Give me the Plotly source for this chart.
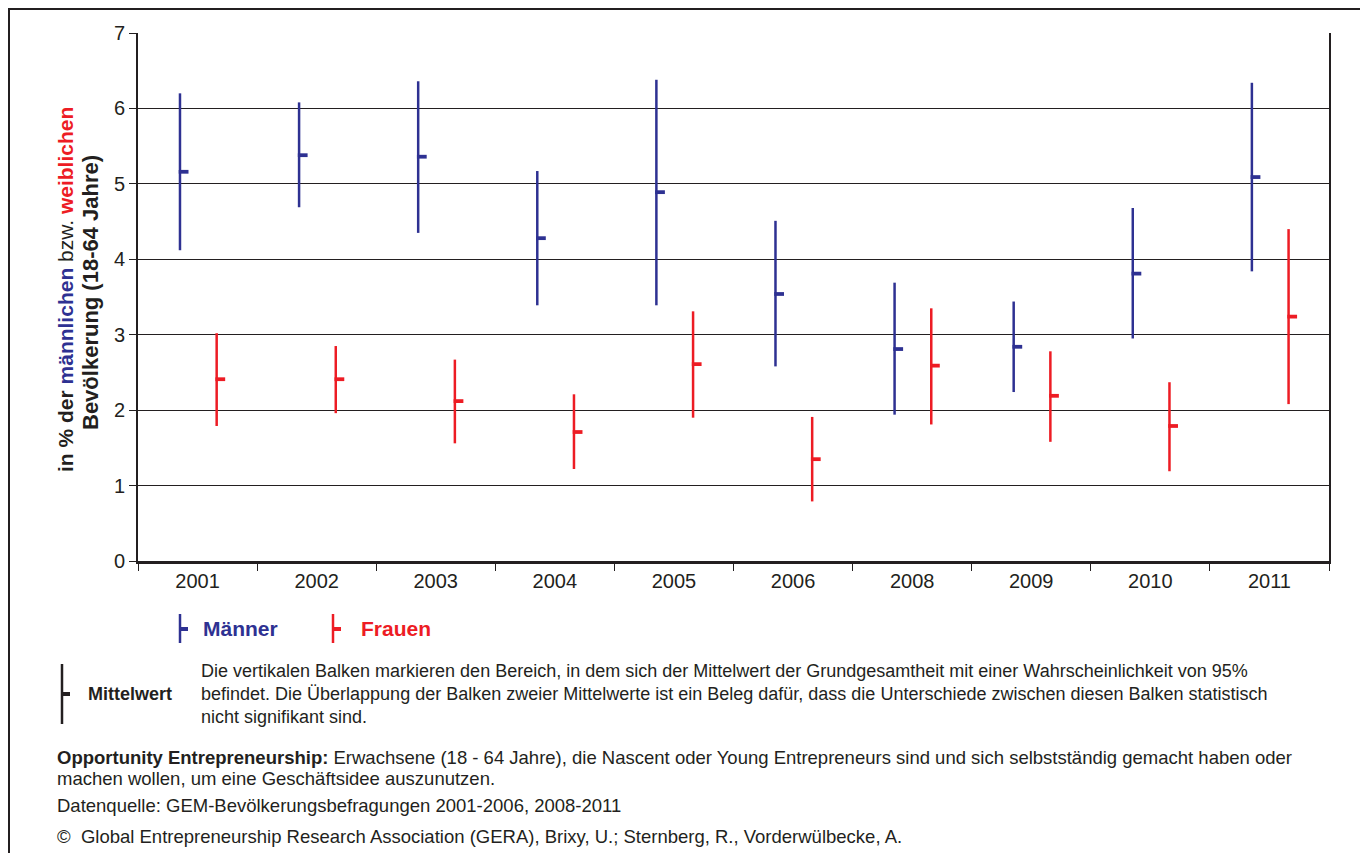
import plotly.graph_objects as go

# ---------------- data ----------------
years = ["2001", "2002", "2003", "2004", "2005", "2006", "2008", "2009", "2010", "2011"]

maenner_low = [4.12, 4.69, 4.35, 3.39, 3.39, 2.58, 1.94, 2.24, 2.95, 3.84]
maenner_high = [6.20, 6.08, 6.36, 5.17, 6.38, 4.51, 3.69, 3.44, 4.68, 6.34]
maenner_mean = [5.16, 5.38, 5.36, 4.28, 4.89, 3.54, 2.81, 2.84, 3.81, 5.09]

frauen_low = [1.79, 1.96, 1.56, 1.22, 1.90, 0.79, 1.81, 1.58, 1.19, 2.08]
frauen_high = [3.02, 2.85, 2.67, 2.21, 3.31, 1.91, 3.35, 2.78, 2.37, 4.40]
frauen_mean = [2.41, 2.41, 2.12, 1.71, 2.61, 1.35, 2.59, 2.19, 1.79, 3.24]

y_ticks = [0, 1, 2, 3, 4, 5, 6, 7]

# ---------------- style ----------------
BLUE = "#2E3192"
RED = "#ED1C24"
DARK = "#231F20"
TXT = "#231F20"
FONT = "Liberation Sans, Arial, Helvetica, sans-serif"

OFF = 8                      # page body margin
W, H = 1360, 845             # figure size
# plot area in page pixels
PL, PR, PT, PB = 138, 1329, 33, 561
L, R, T, B = PL - OFF, PR - OFF, PT - OFF, PB - OFF


def px(x):
    """page x pixel -> paper coordinate"""
    return (x - PL) / (PR - PL)


def py(y):
    """page y pixel -> paper coordinate"""
    return (PB - y) / (PB - PT)


line_w = 0.021      # range bar width (category units)
stub_w = 0.082      # mean stub width (category units)
stub_h = 0.05       # mean stub thickness (value units)
m_off = -0.158
f_off = 0.150

fig = go.Figure()

fig.add_trace(go.Bar(
    x=years, y=[h - l for h, l in zip(maenner_high, maenner_low)], base=maenner_low,
    width=line_w, offset=m_off, marker=dict(color=BLUE, line=dict(width=0)),
    name="Männer", showlegend=False))
fig.add_trace(go.Bar(
    x=years, y=[stub_h] * len(years), base=[m - stub_h / 2 for m in maenner_mean],
    width=stub_w, offset=m_off, marker=dict(color=BLUE, line=dict(width=0)),
    name="Männer Mittelwert", showlegend=False))
fig.add_trace(go.Bar(
    x=years, y=[h - l for h, l in zip(frauen_high, frauen_low)], base=frauen_low,
    width=line_w, offset=f_off, marker=dict(color=RED, line=dict(width=0)),
    name="Frauen", showlegend=False))
fig.add_trace(go.Bar(
    x=years, y=[stub_h] * len(years), base=[m - stub_h / 2 for m in frauen_mean],
    width=stub_w, offset=f_off, marker=dict(color=RED, line=dict(width=0)),
    name="Frauen Mittelwert", showlegend=False))

fig.update_layout(
    width=W, height=H,
    margin=dict(l=L, r=W - R, t=T, b=H - B, pad=0),
    paper_bgcolor="white", plot_bgcolor="white",
    barmode="overlay",
    font=dict(family=FONT, color=TXT),
    xaxis=dict(
        type="category", categoryorder="array", categoryarray=years,
        range=[-0.5, len(years) - 0.5],
        tickson="boundaries", ticks="outside", ticklen=7, tickwidth=1, tickcolor=DARK,
        showgrid=False, showline=True, linewidth=3, linecolor=DARK,
        tickfont=dict(size=20, color=TXT, family=FONT),
        fixedrange=True,
    ),
    yaxis=dict(
        range=[0, 7], tickvals=y_ticks,
        ticks="outside", ticklen=7, tickwidth=1, tickcolor=DARK,
        showgrid=True, gridcolor=DARK, gridwidth=1,
        zeroline=False, showline=True, linewidth=2, linecolor=DARK, mirror=True,
        tickfont=dict(size=20, color=TXT, family=FONT),
        fixedrange=True,
    ),
)

shapes = []
# outer frame
shapes.append(dict(type="rect", xref="paper", yref="paper",
                   x0=px(9), x1=px(1364), y0=py(900), y1=py(9),
                   line=dict(color=DARK, width=2), fillcolor="rgba(0,0,0,0)", layer="above"))


def symbol(xc, ytop, ybot, ystub, color, width=2.5):
    shapes.append(dict(type="line", xref="paper", yref="paper",
                       x0=px(xc), x1=px(xc), y0=py(ytop), y1=py(ybot),
                       line=dict(color=color, width=width)))
    shapes.append(dict(type="line", xref="paper", yref="paper",
                       x0=px(xc), x1=px(xc + 8), y0=py(ystub), y1=py(ystub),
                       line=dict(color=color, width=4)))


symbol(180, 614, 643, 629, BLUE)
symbol(333, 614, 643, 629, RED)
symbol(62, 664, 724, 694, DARK, width=2.5)
fig.update_layout(shapes=shapes)

ann = []


def text(x, y, s, size=18, color=TXT):
    ann.append(dict(x=px(x), y=py(y), xref="paper", yref="paper", text=s,
                    showarrow=False, xanchor="left", yanchor="middle", align="left",
                    font=dict(size=size, color=color, family=FONT)))


# y axis title (two rotated lines)
title1 = ("<b>in % der </b>"
          "<span style='color:" + BLUE + "'><b>männlichen</b></span>"
          " bzw. "
          "<span style='color:" + RED + "'><b>weiblichen</b></span>")
ann.append(dict(x=px(65), y=py(290), xref="paper", yref="paper", textangle=-90,
                text=title1,
                showarrow=False, xanchor="center", yanchor="middle",
                font=dict(size=21, color=TXT, family=FONT)))
ann.append(dict(x=px(90), y=py(293), xref="paper", yref="paper", textangle=-90,
                text="<b>Bevölkerung (18-64 Jahre)</b>",
                showarrow=False, xanchor="center", yanchor="middle",
                font=dict(size=22, color=TXT, family=FONT)))

text(201, 628, "<b>Männer</b>", size=21, color=BLUE)
text(359, 628, "<b>Frauen</b>", size=21, color=RED)
text(86, 694, "<b>Mittelwert</b>", size=18)

text(199, 671, "Die vertikalen Balken markieren den Bereich, in dem sich der Mittelwert der Grundgesamtheit mit einer Wahrscheinlichkeit von 95%")
text(199, 694, "befindet. Die Überlappung der Balken zweier Mittelwerte ist ein Beleg dafür, dass die Unterschiede zwischen diesen Balken statistisch")
text(199, 717, "nicht signifikant sind.")
text(55, 757, "<b>Opportunity Entrepreneurship:</b> Erwachsene (18 - 64 Jahre), die Nascent oder Young Entrepreneurs sind und sich selbstständig gemacht haben oder", size=18.5)
text(55, 778, "machen wollen, um eine Geschäftsidee auszunutzen.", size=18.5)
text(55, 805, "Datenquelle: GEM-Bevölkerungsbefragungen 2001-2006, 2008-2011", size=18.5)
text(55, 836, "©  Global Entrepreneurship Research Association (GERA), Brixy, U.; Sternberg, R., Vorderwülbecke, A.", size=18.5)

fig.update_layout(annotations=ann)

fig.write_html("out.html", config=dict(displayModeBar=False))
